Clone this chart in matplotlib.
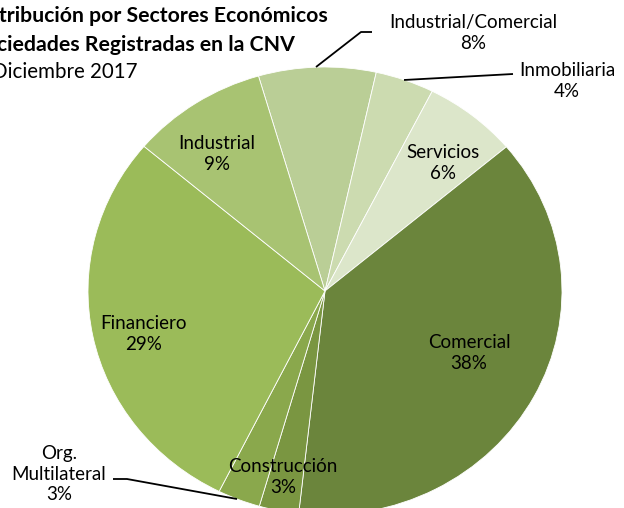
import matplotlib
matplotlib.use("Agg")
import matplotlib.pyplot as plt

# ---- data ----
sectors = ["Industrial/Comercial", "Inmobiliaria", "Servicios", "Comercial",
           "Construcción", "Org.\nMultilateral", "Financiero", "Industrial"]
shares = [8.0, 4.0, 6.4, 37.9, 2.7, 2.9, 28.8, 9.3]
colors = ["#bace96", "#ccdbb0", "#dce6ca", "#6b853c",
          "#7a9641", "#8aa84c", "#9bbb59", "#a8c372"]
title_lines = ["Distribución por Sectores Económicos",
               "Sociedades Registradas en la CNV",
               "Diciembre 2017"]

W, H = 624, 508
fig = plt.figure(figsize=(W / 100, H / 100), dpi=100)
ax = fig.add_axes([0, 0, 1, 1])

# pixel mapping: center (325, 291), radius x 237 px, radius y 224 px
cx, cy, rx, ry = 325, 291, 237, 224
def px(x, y):
    return ((x - cx) / rx, (cy - y) / ry)

wedges, _ = ax.pie(shares, colors=colors, startangle=106.3, counterclock=False,
                   wedgeprops=dict(edgecolor="white", linewidth=0.6))
ax.set_aspect("auto")
ax.set_xlim((0 - cx) / rx, (W - cx) / rx)
ax.set_ylim((cy - H) / ry, cy / ry)
ax.axis("off")

font = "Lato"
label_pos = [(473, 33), (567, 81), (443, 163), (469, 353),
             (283, 477), (59, 474), (144, 334), (217, 154)]
for name, val, (lx, ly) in zip(sectors, shares, label_pos):
    x, y = px(lx, ly)
    ax.text(x, y, f"{name}\n{round(val):.0f}%", ha="center", va="center",
            fontsize=13.5, family=font, linespacing=1.22, color="black")

# leader lines
leaders = [
    [(316, 67), (361, 32), (372, 32)],
    [(404, 80), (513, 74)],
    [(113, 479), (127, 479), (237, 499)],
]
for pts in leaders:
    xs, ys = zip(*[px(a, b) for a, b in pts])
    ax.plot(xs, ys, color="black", linewidth=1.3, solid_capstyle="butt")

# title (partially cut at left edge, as in the reference)
title_right = [328, 295, 138]
title_base = [22, 51, 78]
title_weight = ["bold", "bold", "normal"]
title_size = [15.3, 15.3, 14.8]
for t, r, b, w, s in zip(title_lines, title_right, title_base, title_weight, title_size):
    x, y = px(r, b)
    ax.text(x, y, t, ha="right", va="baseline", fontsize=s,
            fontweight=w, family=font, color="black")

fig.savefig("out.png", dpi=100)
